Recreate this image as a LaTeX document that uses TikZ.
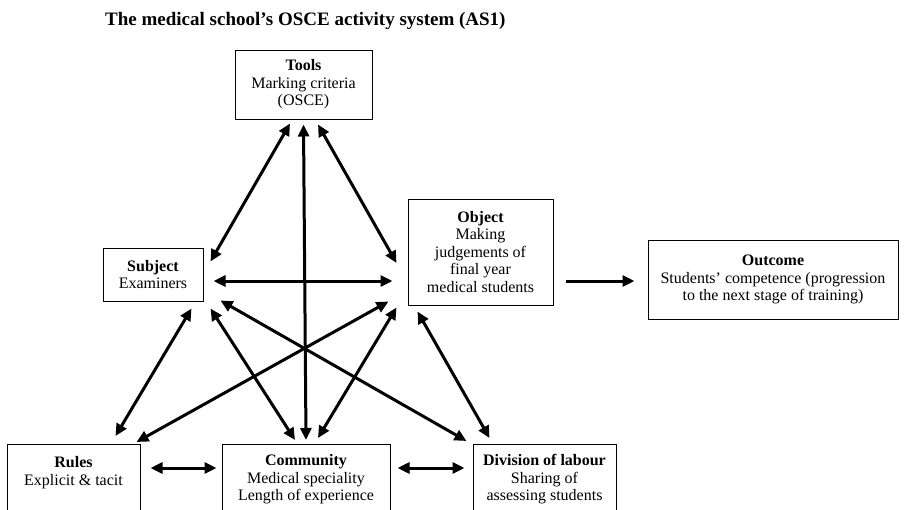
\documentclass[tikz,border=0pt]{standalone}
\usepackage{fontspec}
\setmainfont{Liberation Serif}
\usepackage{tikz}
\usetikzlibrary{arrows.meta}

\begin{document}
\begin{tikzpicture}[x=1pt,y=-1pt,
    box/.style={draw, line width=1pt, align=center, inner sep=1pt,
      font=\fontsize{16}{17.5}\selectfont},
    lowbox/.style={box, anchor=north, minimum height=70},
    link/.style={line width=3pt, {Triangle[length=12pt,width=11pt]}-{Triangle[length=12pt,width=11pt]}},
    onelink/.style={line width=3pt, -{Triangle[length=12pt,width=11pt]}}]
      \useasboundingbox (0,0) rectangle (910,509);

      \node[anchor=west, inner sep=0pt, font=\fontsize{19}{22}\selectfont\bfseries] (title) at (105,21)
        {The medical school's OSCE activity system (AS1)};

      \node[box, minimum width=137, minimum height=69] (tools) at (303.5,84.5)
        {\textbf{Tools}\\Marking criteria\\(OSCE)};
      \node[box, minimum width=100, minimum height=53] (subject) at (153,274.5)
        {\textbf{Subject}\\Examiners};
      \node[box, minimum width=145, minimum height=106] (object) at (480.5,252)
        {\textbf{Object}\\Making\\judgements of\\final year\\medical students};
      \node[box, minimum width=250, minimum height=79] (outcome) at (773,279.5)
        {\textbf{Outcome}\\Students' competence (progression\\to the next stage of training)};
      \node[lowbox, minimum width=133] (rules) at (73.5,444)
        {\textbf{Rules}\\Explicit \& tacit\\\mbox{}};
      \node[lowbox, minimum width=168] (community) at (306,444)
        {\textbf{Community}\\Medical speciality\\Length of experience};
      \node[lowbox, minimum width=143] (division) at (544.5,444)
        {\textbf{Division of labour}\\Sharing of\\assessing students};

      \draw[link] ([xshift=-13.5pt,yshift=-4pt]tools.south) -- ([xshift=7pt,yshift=-14pt]subject.north east);
      \draw[link] ([yshift=-5pt]tools.south) -- ([yshift=4pt]community.north);
      \draw[link] ([xshift=14.5pt,yshift=-5pt]tools.south) -- ([xshift=-11pt,yshift=-11pt]object.west);
      \draw[link] ([xshift=10pt,yshift=-6.5pt]subject.east) -- ([xshift=-15pt,yshift=-29pt]object.west);
      \draw[onelink] ([xshift=12pt,yshift=-29pt]object.east) -- ([xshift=-13pt,yshift=-1.5pt]outcome.west);

      \draw[link] ([xshift=-12pt,yshift=-7pt]subject.south east) -- ([xshift=-25pt,yshift=8pt]rules.north east);
      \draw[link] ([xshift=7pt,yshift=-7pt]subject.south east) -- ([xshift=-11pt,yshift=4pt]community.north);
      \draw[link] ([xshift=17pt,yshift=1pt]subject.south east) -- ([xshift=-6pt,yshift=3pt]division.north west);
      \draw[link] ([xshift=-19pt,yshift=4pt]object.south west) -- ([xshift=-4pt,yshift=2pt]rules.north east);
      \draw[link] ([xshift=-11pt,yshift=-2pt]object.south west) -- ([xshift=12pt,yshift=6pt]community.north);
      \draw[link] ([xshift=10pt,yshift=-6pt]object.south west) -- ([xshift=17pt,yshift=6pt]division.north west);

      \draw[link] ([xshift=10pt,yshift=-24pt]rules.north east) -- ([xshift=-5pt,yshift=-24pt]community.north west);
      \draw[link] ([xshift=7pt,yshift=-24pt]community.north east) -- ([xshift=-8pt,yshift=-24pt]division.north west);

    \end{tikzpicture}
\end{document}
